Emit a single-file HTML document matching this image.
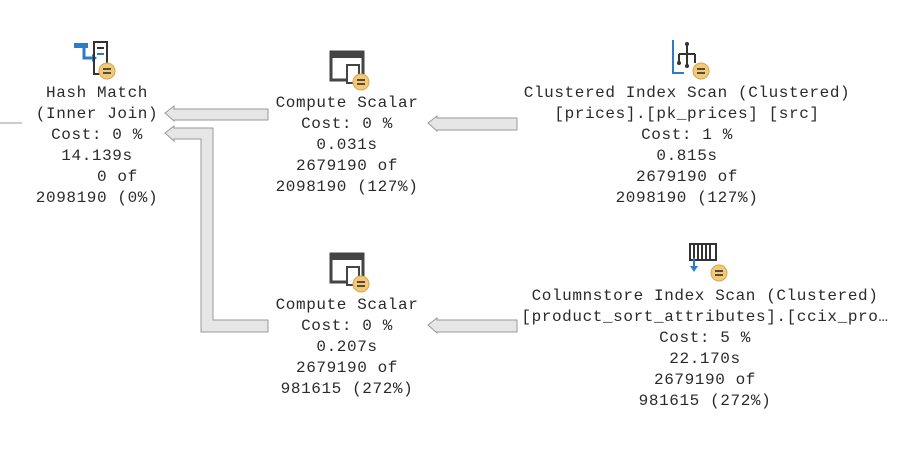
<!DOCTYPE html>
<html><head><meta charset="utf-8"><style>
body{margin:0;width:917px;height:453px;background:#fff;position:relative;overflow:hidden;font-family:"Liberation Mono",monospace;}
.t{position:absolute;font-size:16px;letter-spacing:0.6px;line-height:21px;color:#2a2a2a;text-align:center;white-space:pre;transform:translateX(-50%);}
svg{position:absolute;left:0;top:0;}
</style></head><body>
<svg width="917" height="453">
 <line x1="0" y1="123" x2="22" y2="123" stroke="#999"/>
 <polygon points="165,113 174,106 174,109 268,109 268,120 174,120 174,121" fill="#e6e6e6" stroke="#999"/>
 <polygon points="428,123 437,116 437,118 517,118 517,130 437,130 437,131" fill="#e6e6e6" stroke="#999"/>
 <polygon points="165,133 174,126 174,128 213,128 213,320 268,320 268,332 201,332 201,139 174,139 174,141" fill="#e6e6e6" stroke="#999"/>
 <polygon points="428,325 437,318 437,320 517,320 517,332 437,332 437,333" fill="#e6e6e6" stroke="#999"/>
 <g>
  <rect x="74" y="43" width="14" height="5" fill="#2e7bc6"/>
  <path d="M84 48 V58 H92" stroke="#2e7bc6" stroke-width="3" fill="none"/><polygon points="92,54 97,58 92,62" fill="#2e7bc6"/>
  <rect x="94" y="42" width="13" height="32" fill="none" stroke="#333" stroke-width="2"/>
  <line x1="97" y1="48" x2="104" y2="48" stroke="#333" stroke-width="2"/><line x1="97" y1="54" x2="104" y2="54" stroke="#2e7bc6" stroke-width="2"/>
  <circle cx="107" cy="71" r="8" fill="#f2c879" stroke="#d9a54a"/><path d="M103 69h8M103 73h8" stroke="#222" stroke-width="1.5"/>
 </g>
 <g>
  <rect x="331" y="52" width="32" height="28" fill="none" stroke="#444" stroke-width="3"/><rect x="331" y="52" width="32" height="6" fill="#444"/>
  <rect x="347" y="65" width="12" height="18" fill="#fff" stroke="#444" stroke-width="2"/>
  <circle cx="361" cy="82" r="8" fill="#f2c879" stroke="#d9a54a"/><path d="M357 80h8M357 84h8" stroke="#222" stroke-width="1.5"/>
 </g>
 <g>
  <rect x="331" y="254" width="32" height="28" fill="none" stroke="#444" stroke-width="3"/><rect x="331" y="254" width="32" height="6" fill="#444"/>
  <rect x="347" y="267" width="12" height="18" fill="#fff" stroke="#444" stroke-width="2"/>
  <circle cx="361" cy="284" r="8" fill="#f2c879" stroke="#d9a54a"/><path d="M357 282h8M357 286h8" stroke="#222" stroke-width="1.5"/>
 </g>
 <g>
  <path d="M673 40 V73 H684" stroke="#2e7bc6" stroke-width="2" fill="none"/>
  <path d="M687 44 V66 M679 54 V63 M695 54 V63 M679 54 H695" stroke="#333" stroke-width="2" fill="none"/>
  <circle cx="679" cy="63" r="2" fill="#333"/><circle cx="687" cy="66" r="2" fill="#333"/><circle cx="687" cy="44" r="2" fill="#333"/>
  <circle cx="701" cy="71" r="8" fill="#f2c879" stroke="#d9a54a"/><path d="M697 69h8M697 73h8" stroke="#222" stroke-width="1.5"/>
 </g>
 <g>
  <path d="M690 244h26v16h-26z" fill="none" stroke="#333" stroke-width="2"/>
  <path d="M694 244v16M698 244v16M702 244v16M706 244v16M710 244v16" stroke="#333" stroke-width="2"/>
  <path d="M694 258v10" stroke="#2e7bc6" stroke-width="2"/><polygon points="690,266 698,266 694,272" fill="#2e7bc6"/>
  <circle cx="719" cy="273" r="8" fill="#f2c879" stroke="#d9a54a"/><path d="M715 271h8M715 275h8" stroke="#222" stroke-width="1.5"/>
 </g>
</svg>
<div class="t" style="left:97px;top:83px">Hash Match
(Inner Join)
Cost: 0 %
14.139s
    0 of
2098190 (0%)</div>
<div class="t" style="left:347px;top:93px">Compute Scalar
Cost: 0 %
0.031s
2679190 of
2098190 (127%)</div>
<div class="t" style="left:687px;top:83px">Clustered Index Scan (Clustered)
[prices].[pk_prices] [src]
Cost: 1 %
0.815s
2679190 of
2098190 (127%)</div>
<div class="t" style="left:347px;top:295px">Compute Scalar
Cost: 0 %
0.207s
2679190 of
981615 (272%)</div>
<div class="t" style="left:705px;top:286px">Columnstore Index Scan (Clustered)
[product_sort_attributes].[ccix_pro…
Cost: 5 %
22.170s
2679190 of
981615 (272%)</div>
</body></html>
